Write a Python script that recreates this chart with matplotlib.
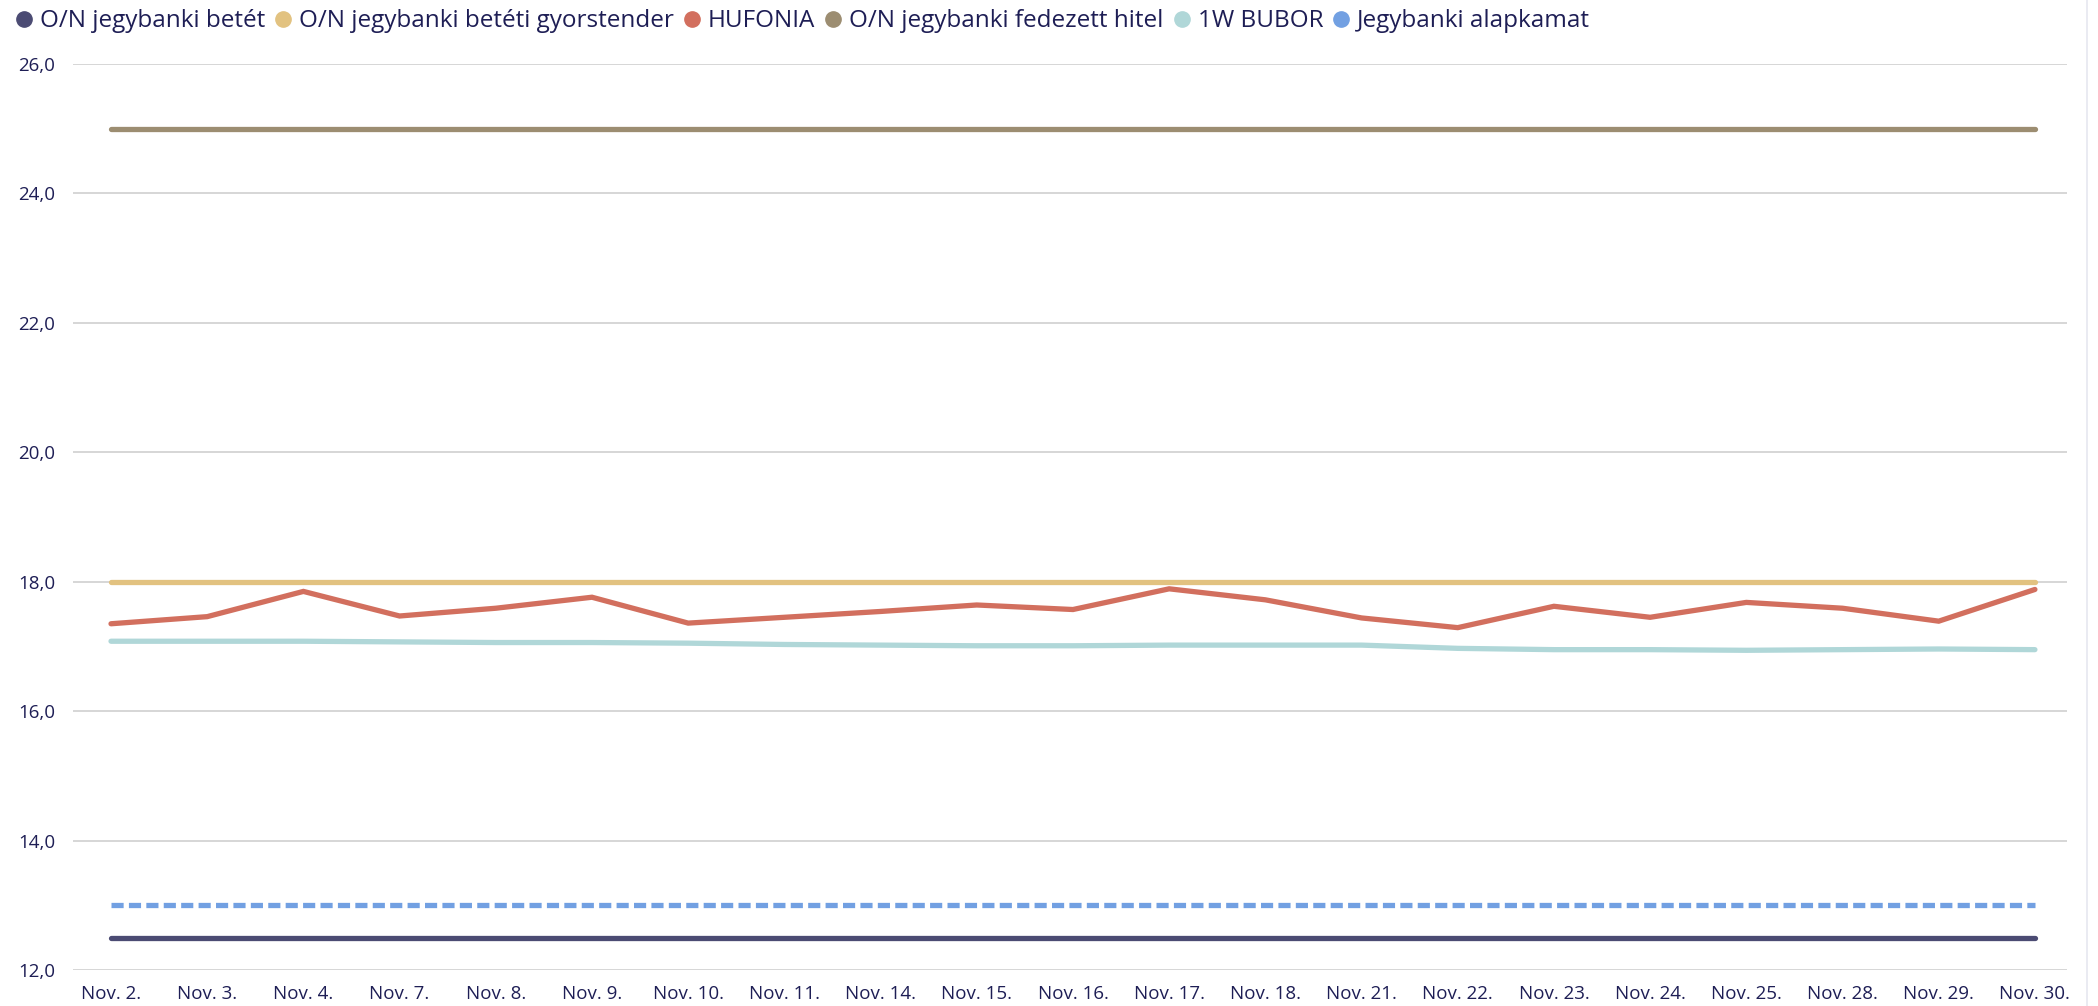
import matplotlib
matplotlib.use('Agg')
import matplotlib.pyplot as plt
from matplotlib.lines import Line2D
from matplotlib.ticker import FuncFormatter

# data
dates = ['Nov. 2.', 'Nov. 3.', 'Nov. 4.', 'Nov. 7.', 'Nov. 8.', 'Nov. 9.', 'Nov. 10.',
         'Nov. 11.', 'Nov. 14.', 'Nov. 15.', 'Nov. 16.', 'Nov. 17.', 'Nov. 18.',
         'Nov. 21.', 'Nov. 22.', 'Nov. 23.', 'Nov. 24.', 'Nov. 25.', 'Nov. 28.',
         'Nov. 29.', 'Nov. 30.']
on_betet = [12.5] * 21
gyorstender = [18.0] * 21
hufonia = [17.35, 17.46, 17.85, 17.47, 17.59, 17.76, 17.36, 17.45, 17.54, 17.64, 17.57,
           17.89, 17.72, 17.44, 17.29, 17.62, 17.45, 17.68, 17.59, 17.39, 17.88]
fedezett_hitel = [25.0] * 21
bubor_1w = [17.08, 17.08, 17.08, 17.07, 17.06, 17.06, 17.05, 17.03, 17.02, 17.01, 17.01,
            17.02, 17.02, 17.02, 16.97, 16.95, 16.95, 16.94, 16.95, 16.96, 16.95]
alapkamat = [13.0] * 21

labels = ['O/N jegybanki betét', 'O/N jegybanki betéti gyorstender', 'HUFONIA',
          'O/N jegybanki fedezett hitel', '1W BUBOR', 'Jegybanki alapkamat']
colors = ['#4b4b73', '#e2c280', '#d26f5e', '#9c8d71', '#b0d7d8', '#72a0e2']
text_col = '#1e1e55'

plt.rcParams['font.family'] = ['Open Sans', 'DejaVu Sans']

fig = plt.figure(figsize=(20.98, 10.06), dpi=100)
ax = fig.add_axes([0.0348, 0.0358, 0.9504, 0.9006])

x = list(range(len(dates)))
lw = 3.8
ax.plot(x, fedezett_hitel, color=colors[3], lw=lw, solid_capstyle='round', zorder=3)
ax.plot(x, bubor_1w, color=colors[4], lw=lw, solid_capstyle='round', zorder=3)
ax.plot(x, hufonia, color=colors[2], lw=lw, solid_capstyle='round', solid_joinstyle='miter', zorder=4)
ax.plot(x, gyorstender, color=colors[1], lw=lw, solid_capstyle='round', zorder=4)
ax.plot(x, alapkamat, color=colors[5], lw=lw, linestyle=(0, (2.3, 1.0)), zorder=3)
ax.plot(x, on_betet, color=colors[0], lw=lw, solid_capstyle='round', zorder=3)

ax.set_xlim(-0.395, 20.333)
ax.set_ylim(12, 26)
ax.set_yticks(range(12, 27, 2))
ax.yaxis.set_major_formatter(FuncFormatter(lambda v, p: ('%.1f' % v).replace('.', ',')))
ax.set_xticks(x)
ax.set_xticklabels(dates)
ax.grid(axis='y', color='#d3d3d3', lw=1.3)
ax.set_axisbelow(True)
for s in ax.spines.values():
    s.set_visible(False)
ax.tick_params(axis='both', length=0, labelsize=13.5, colors=text_col)
ax.tick_params(axis='y', pad=13)
ax.tick_params(axis='x', pad=11)

handles = [Line2D([], [], ls='none', marker='o', markersize=11, color=c) for c in colors]
fig.legend(handles, labels, loc='upper left', bbox_to_anchor=(0.0038, 0.998), ncol=6,
           frameon=False, fontsize=17.5, labelcolor=text_col, handletextpad=0.31,
           columnspacing=0.39, handlelength=0.7, borderaxespad=0.0, borderpad=0.3)

fig.add_artist(Line2D([0.9948, 0.9948], [0, 1], color='#e6e8f0', lw=1.2))

fig.savefig('out.png', dpi=100)
